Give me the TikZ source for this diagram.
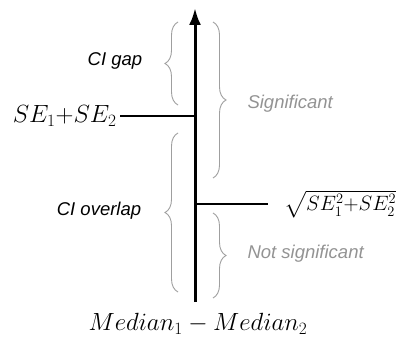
\documentclass[tikz,border=0pt]{standalone}
\usepackage{amsmath, amssymb}
\usepackage{fontspec}
\setsansfont{Liberation Sans}
\usepackage{tikz}
\usetikzlibrary{arrows.meta, decorations.pathreplacing, positioning}

\begin{document}
\begin{tikzpicture}[x=1pt, y=-1pt, >={Latex[length=17pt, width=12pt]},
    cibrace/.style={draw=gray!75, line width=0.9pt,
        decorate, decoration={brace, amplitude=13pt}},
    cilabel/.style={font=\sffamily\itshape\fontsize{18.5}{20}\selectfont},
    siglabel/.style={cilabel, text=gray!85},
    mathlabel/.style={font=\fontsize{25}{28}\selectfont}]
    \useasboundingbox (0,0) rectangle (403,339);

    % 1. Trục chính
    \coordinate (base) at (195,302);
    \coordinate (tip) at (195,8);
    \draw[->, line width=3pt] (base) -- (tip);

    % 2. Hai mức ngưỡng
    \coordinate (lowaxis) at (195,116);
    \coordinate (lowend) at (120,116);
    \coordinate (highaxis) at (195,204);
    \coordinate (highend) at (268,204);
    \draw[line width=2.6pt] (lowend) -- (lowaxis);
    \draw[line width=2.6pt] (highaxis) -- (highend);
    \node[mathlabel, left=0pt of lowend] (sesum) {$SE_1{+}SE_2$};
    \node[mathlabel, font=\fontsize{22}{24}\selectfont, inner sep=0pt,
        right=16pt of highend, anchor=west] (seroot)
        {$\sqrt{SE_1^2{+}SE_2^2}$};
    \node[mathlabel] (diff) at (198,324) {$Median_1-Median_2$};

    % 3. Ngoặc nhọn bên trái
    \draw[cibrace] (178,105) -- (178,22);
    \node[cilabel] (gap) at (115,61) {CI gap};
    \draw[cibrace] (178,292) -- (178,133);
    \node[cilabel] (overlap) at (99,211) {CI overlap};

    % 4. Ngoặc nhọn bên phải
    \draw[cibrace] (213,22) -- (213,178);
    \node[siglabel, anchor=west] (sig) at (244,104) {Significant};
    \draw[cibrace] (213,213) -- (213,298);
    \node[siglabel, anchor=west] (notsig) at (244,254) {Not significant};
\end{tikzpicture}
\end{document}
